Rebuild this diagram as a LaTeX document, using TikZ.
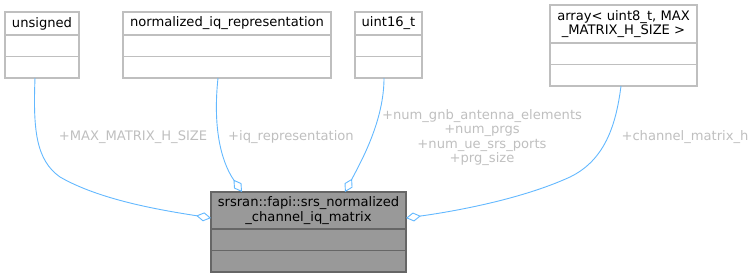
\documentclass[tikz,border=0pt]{standalone}
\usepackage{fontspec}
\setmainfont{DejaVu Sans}
\usetikzlibrary{positioning,arrows.meta,calc}

\definecolor{edgeblue}{HTML}{63B8FF}
\definecolor{boxgray}{HTML}{BFBFBF}
\definecolor{labelgray}{HTML}{BFBFBF}
\definecolor{mainfill}{HTML}{999999}
\definecolor{mainline}{HTML}{666666}

\begin{document}
\begin{tikzpicture}[x=1pt, y=-1pt,
    font=\fontsize{13.1}{14.3}\selectfont,
    % class boxes: a title part and two empty compartments
    classhead/.style={draw=boxgray, line width=1.2pt, fill=white, outer sep=0pt,
      inner sep=0pt, minimum width=#1, minimum height=23pt, align=center, anchor=north west},
    classrow/.style={draw=boxgray, line width=1.2pt, fill=white, outer sep=0pt,
      inner sep=0pt, minimum width=#1, minimum height=21.5pt},
    mainbox/.style={draw=mainline, fill=mainfill},
    % member links with the open diamond at the owner
    member/.style={draw=edgeblue, line width=0.9pt,
      -{Diamond[open, length=15pt, width=9pt]}},
    memberlabel/.style={text=labelgray, align=center, inner sep=0pt}
  ]
  \useasboundingbox (0,0) rectangle (754,277);

  % Member types
  \node[classhead=74pt] (unsigned) at (5,12) {unsigned};
  \node[classrow=74pt, below=0pt of unsigned] (unsignedA) {};
  \node[classrow=74pt, below=0pt of unsignedA] (unsignedB) {};

  \node[classhead=208pt] (normiq) at (123,12) {normalized\_iq\_representation};
  \node[classrow=208pt, below=0pt of normiq] (normiqA) {};
  \node[classrow=208pt, below=0pt of normiqA] (normiqB) {};

  \node[classhead=67pt] (uintsixteen) at (355,12) {uint16\_t};
  \node[classrow=67pt, below=0pt of uintsixteen] (uintsixteenA) {};
  \node[classrow=67pt, below=0pt of uintsixteenA] (uintsixteenB) {};

  \node[classhead=147pt, minimum height=38pt] (array) at (550,5)
    {array< uint8\_t, MAX\\\_MATRIX\_H\_SIZE >};
  \node[classrow=147pt, below=0pt of array] (arrayA) {};
  \node[classrow=147pt, below=0pt of arrayA] (arrayB) {};

  % Owner struct
  \node[classhead=195pt, minimum height=37pt, mainbox] (mainhead) at (211,192)
    {srsran::fapi::srs\_normalized\\\_channel\_iq\_matrix};
  \node[classrow=195pt, below=0pt of mainhead, mainbox] (mainA) {};
  \node[classrow=195pt, below=0pt of mainA, mainbox] (mainB) {};

  % Links
  \draw[member] ([xshift=-7pt]unsignedB.south)
    .. controls (33,130) and (36,160) .. (60,177)
    .. controls (100,200) and (160,210) .. ([yshift=-7.5pt]mainhead.west);
  \draw[member] ([xshift=-9pt]normiqB.south)
    .. controls (213,125) and (220,160) .. ([xshift=31pt]mainhead.north west);
  \draw[member] ([xshift=-4.5pt]uintsixteenB.south)
    .. controls (384,120) and (362,160) .. ([xshift=134pt]mainhead.north west);
  \draw[member] ([xshift=-2.5pt]arrayB.south)
    .. controls (616,125) and (605,160) .. (570,177)
    .. controls (520,200) and (450,212) .. ([yshift=-7.5pt]mainhead.east);

  % Link labels
  \node[memberlabel] (maxlabel) at (133,137) {+MAX\_MATRIX\_H\_SIZE};
  \node[memberlabel] (iqlabel) at (291,137) {+iq\_representation};
  \node[memberlabel] (sizeslabel) at (482,137.5)
    {+num\_gnb\_antenna\_elements\\+num\_prgs\\+num\_ue\_srs\_ports\\+prg\_size};
  \node[memberlabel] (chlabel) at (685,137) {+channel\_matrix\_h};
\end{tikzpicture}
\end{document}
